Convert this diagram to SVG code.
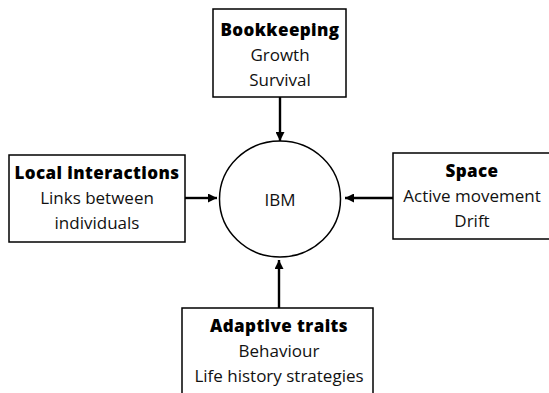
<svg xmlns="http://www.w3.org/2000/svg" width="549" height="393" viewBox="0 0 549 393">
<defs>
<marker id="ah" viewBox="0 0 10 10" refX="10" refY="5" markerWidth="10" markerHeight="9" markerUnits="userSpaceOnUse" orient="auto">
<path d="M0,0 L10,5 L0,10 Z" fill="#000"/>
</marker>
<style>
.box{fill:#fff;stroke:#000;stroke-width:1.5}
.t{font-family:"Open Sans","Noto Sans",sans-serif;font-size:17px;text-anchor:middle;fill:#111}
.b{font-weight:800;fill:#000;letter-spacing:0.4px}
.c{stroke:#000;stroke-width:2.4;fill:none;marker-end:url(#ah)}
</style>
</defs>
<rect width="549" height="393" fill="#fff"/>
<g id="connectors">
<line class="c" x1="280" y1="97" x2="280" y2="141"/>
<line class="c" x1="185" y1="198" x2="217" y2="198"/>
<line class="c" x1="393" y1="198" x2="345" y2="198"/>
<line class="c" x1="279" y1="308" x2="279" y2="260"/>
</g>
<g id="ibm">
<ellipse cx="280" cy="199" rx="60.5" ry="58" fill="#fff" stroke="#000" stroke-width="1.5"/>
<text class="t" x="280" y="206">IBM</text>
</g>
<g id="bookkeeping">
<rect class="box" x="213" y="9" width="133" height="88"/>
<text class="t b" x="280" y="36">Bookkeeping</text>
<text class="t" x="280" y="61">Growth</text>
<text class="t" x="280" y="86">Survival</text>
</g>
<g id="local">
<rect class="box" x="9" y="155" width="176" height="87"/>
<text class="t b" x="97" y="179">Local interactions</text>
<text class="t" x="97" y="204">Links between</text>
<text class="t" x="97" y="229">individuals</text>
</g>
<g id="space">
<rect class="box" x="393" y="153" width="160" height="86"/>
<text class="t b" x="472" y="177">Space</text>
<text class="t" x="472" y="202">Active movement</text>
<text class="t" x="472" y="227">Drift</text>
</g>
<g id="adaptive">
<rect class="box" x="182" y="308" width="191" height="90"/>
<text class="t b" x="279" y="332">Adaptive traits</text>
<text class="t" x="279" y="357">Behaviour</text>
<text class="t" x="279" y="382">Life history strategies</text>
</g>
</svg>
